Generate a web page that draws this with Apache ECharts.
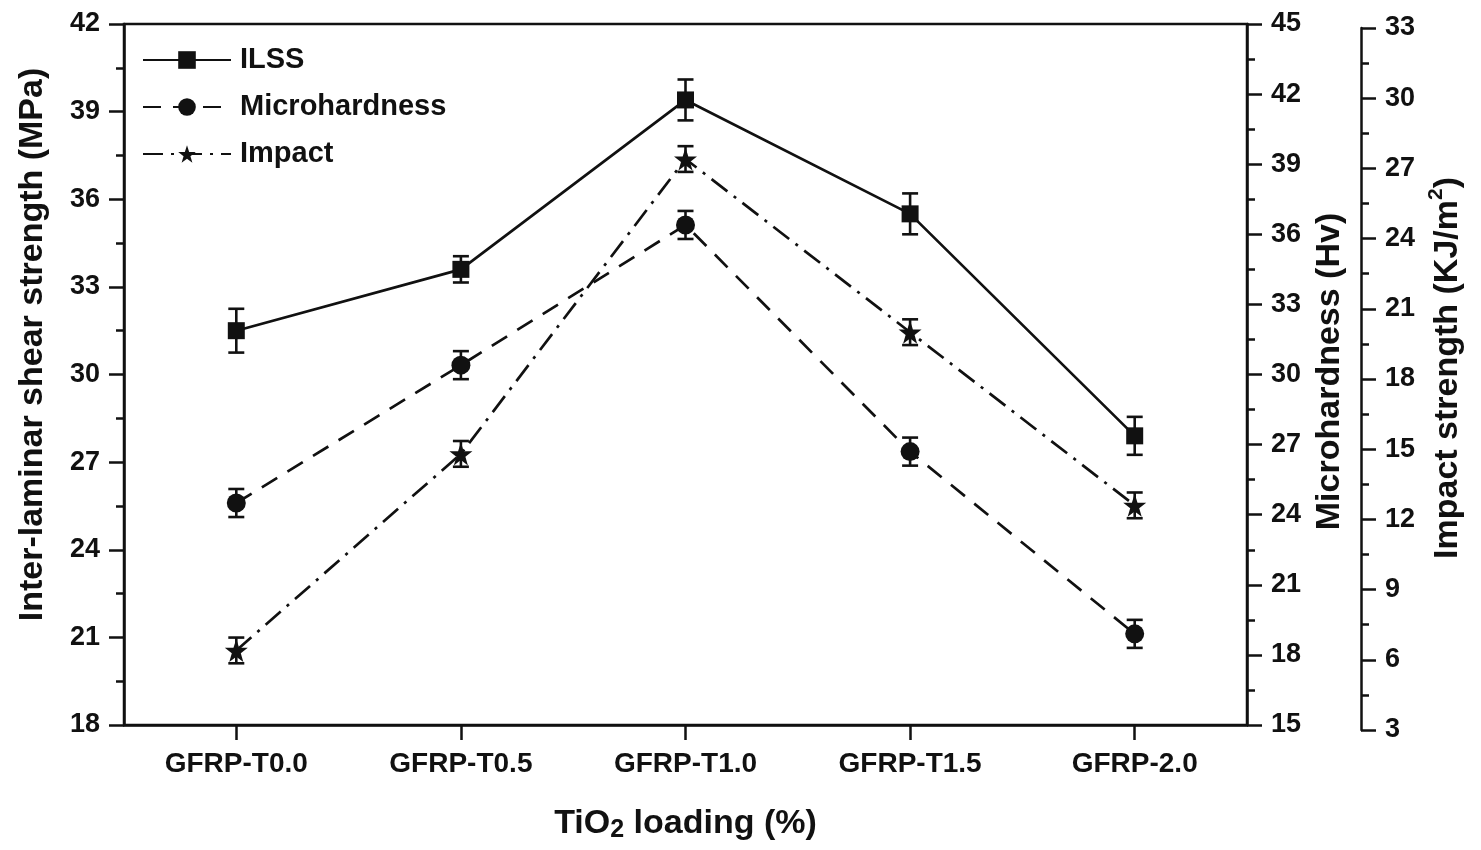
<!DOCTYPE html>
<html>
<head>
<meta charset="utf-8">
<title>ILSS, microhardness and impact strength vs TiO2 loading</title>
<script src="https://cdn.jsdelivr.net/npm/echarts@6/dist/echarts.min.js"></script>
<style>
  html, body { margin: 0; padding: 0; background: #fff; }
  #chart { width: 1481px; height: 850px; }
</style>
</head>
<body>
<div id="chart"></div>
<script>
// Sample groups along the x axis
const categories = ['GFRP-T0.0', 'GFRP-T0.5', 'GFRP-T1.0', 'GFRP-T1.5', 'GFRP-2.0'];

// Inter-laminar shear strength (MPa) with error
const ilss = [31.5, 33.6, 39.4, 35.5, 27.9];
const ilssErr = [0.75, 0.45, 0.7, 0.7, 0.65];

// Microhardness (Hv) with error
const hardness = [24.5, 30.4, 36.4, 26.7, 18.9];
const hardnessErr = [0.6, 0.6, 0.6, 0.6, 0.6];

// Impact strength (KJ/m2) with error
const impact = [6.4, 14.8, 27.4, 20.0, 12.6];
const impactErr = [0.55, 0.55, 0.55, 0.55, 0.55];

// Axis ranges: [min, max, interval]
const ilssAxis = [18, 42, 3];
const hardnessAxis = [15, 45, 3];
const impactAxis = [3, 33, 3];

const FONT = '"Liberation Sans", Arial, sans-serif';
const INK = '#111';

const starPath = 'path://M50,0 L61.8,35.1 L98.1,35.1 L68.8,56.8 L79.4,91 L50,70 L20.6,91 L31.2,56.8 L1.9,35.1 L38.2,35.1 Z';

function errorData(values, errs) {
  return values.map((v, i) => [i, v - errs[i], v + errs[i]]);
}

function renderErrorBar(params, api) {
  const x = api.value(0);
  const lo = api.coord([x, api.value(1)]);
  const hi = api.coord([x, api.value(2)]);
  const hw = 8;
  const style = { stroke: INK, lineWidth: 2.6, fill: null };
  return {
    type: 'group',
    children: [
      { type: 'line', shape: { x1: lo[0], y1: lo[1], x2: hi[0], y2: hi[1] }, style: style },
      { type: 'line', shape: { x1: lo[0] - hw, y1: lo[1], x2: lo[0] + hw, y2: lo[1] }, style: style },
      { type: 'line', shape: { x1: hi[0] - hw, y1: hi[1], x2: hi[0] + hw, y2: hi[1] }, style: style }
    ]
  };
}

function valueAxis(range, extra) {
  return Object.assign({
    type: 'value',
    min: range[0],
    max: range[1],
    interval: range[2],
    splitLine: { show: false },
    axisLine: { show: true, lineStyle: { color: INK, width: 2.5 } },
    axisTick: { show: true, inside: false, length: 15, lineStyle: { color: INK, width: 2.5 } },
    minorTick: { show: true, splitNumber: 2, length: 8, lineStyle: { color: INK, width: 2.5 } },
    axisLabel: { color: INK, fontFamily: FONT, fontWeight: 'bold', fontSize: 27, margin: 24 },
    nameLocation: 'middle',
    nameTextStyle: { color: INK, fontFamily: FONT, fontWeight: 'bold', fontSize: 34 }
  }, extra);
}

const chart = echarts.init(document.getElementById('chart'), null, { renderer: 'canvas' });

chart.setOption({
  backgroundColor: '#fff',
  animation: false,
  grid: [
    { left: 124, right: 234, top: 24, bottom: 125, show: true, borderColor: INK, borderWidth: 2.5, backgroundColor: 'transparent' },
    { left: 124, right: 234, top: 28, bottom: 120 }
  ],
  legend: {
    data: ['ILSS', 'Microhardness', 'Impact'],
    orient: 'vertical',
    left: 137,
    top: 40,
    itemWidth: 88,
    itemHeight: 22,
    itemGap: 17,
    textStyle: { color: INK, fontFamily: FONT, fontWeight: 'bold', fontSize: 29, lineHeight: 30, padding: [0, 0, 0, 4] }
  },
  xAxis: [
    {
      type: 'category',
      gridIndex: 0,
      data: categories,
      boundaryGap: true,
      axisLine: { show: true, lineStyle: { color: INK, width: 2.5 } },
      axisTick: { show: true, alignWithLabel: true, length: 15, lineStyle: { color: INK, width: 2.5 } },
      axisLabel: { color: INK, fontFamily: FONT, fontWeight: 'bold', fontSize: 28, margin: 25 },
      name: '{a|TiO}{sub|2}{a| loading (%)}',
      nameLocation: 'middle',
      nameGap: 82,
      nameTextStyle: {
        rich: {
          a: { color: INK, fontFamily: FONT, fontWeight: 'bold', fontSize: 34, lineHeight: 36, verticalAlign: 'top' },
          sub: { color: INK, fontFamily: FONT, fontWeight: 'bold', fontSize: 25, lineHeight: 25, padding: [17, 0, 0, 0], verticalAlign: 'bottom' }
        }
      }
    },
    {
      type: 'category',
      gridIndex: 1,
      data: categories,
      boundaryGap: true,
      show: false
    }
  ],
  yAxis: [
    valueAxis(ilssAxis, {
      gridIndex: 0,
      position: 'left',
      name: 'Inter-laminar shear strength (MPa)',
      nameGap: 74,
      nameTextStyle: { color: INK, fontFamily: FONT, fontWeight: 'bold', fontSize: 34, padding: [0, 0, 0, 60] }
    }),
    valueAxis(hardnessAxis, {
      gridIndex: 0,
      position: 'right',
      name: 'Microhardness (Hv)',
      nameGap: 66,
      nameTextStyle: { color: INK, fontFamily: FONT, fontWeight: 'bold', fontSize: 34, padding: [0, 0, 0, 6] }
    }),
    valueAxis(impactAxis, {
      gridIndex: 1,
      position: 'right',
      offset: 114,
      name: '{a|Impact strength (KJ/m}{sup|2}{a|)}',
      nameGap: 62,
      nameTextStyle: {
        padding: [0, 0, 0, 22],
        rich: {
          a: { color: INK, fontFamily: FONT, fontWeight: 'bold', fontSize: 34, lineHeight: 39, verticalAlign: 'bottom' },
          sup: { color: INK, fontFamily: FONT, fontWeight: 'bold', fontSize: 21, lineHeight: 21, verticalAlign: 'top' }
        }
      }
    })
  ],
  series: [
    {
      name: 'ILSS',
      type: 'line',
      xAxisIndex: 0,
      yAxisIndex: 0,
      data: ilss,
      symbol: 'rect',
      symbolSize: 17,
      itemStyle: { color: INK },
      lineStyle: { color: INK, width: 2.7, type: 'solid' },
      z: 5
    },
    {
      name: 'Microhardness',
      type: 'line',
      xAxisIndex: 0,
      yAxisIndex: 1,
      data: hardness,
      symbol: 'circle',
      symbolSize: 19,
      itemStyle: { color: INK },
      lineStyle: { color: INK, width: 2.7, type: [18, 12] },
      z: 5
    },
    {
      name: 'Impact',
      type: 'line',
      xAxisIndex: 1,
      yAxisIndex: 2,
      data: impact,
      symbol: starPath,
      symbolSize: 23,
      itemStyle: { color: INK },
      lineStyle: { color: INK, width: 2.7, type: [20, 8, 3, 8] },
      z: 5
    },
    {
      name: 'ILSS error',
      type: 'custom',
      xAxisIndex: 0,
      yAxisIndex: 0,
      data: errorData(ilss, ilssErr),
      encode: { x: 0, y: [1, 2] },
      renderItem: renderErrorBar,
      z: 3
    },
    {
      name: 'Microhardness error',
      type: 'custom',
      xAxisIndex: 0,
      yAxisIndex: 1,
      data: errorData(hardness, hardnessErr),
      encode: { x: 0, y: [1, 2] },
      renderItem: renderErrorBar,
      z: 3
    },
    {
      name: 'Impact error',
      type: 'custom',
      xAxisIndex: 1,
      yAxisIndex: 2,
      data: errorData(impact, impactErr),
      encode: { x: 0, y: [1, 2] },
      renderItem: renderErrorBar,
      z: 3
    }
  ]
});
</script>
</body>
</html>
